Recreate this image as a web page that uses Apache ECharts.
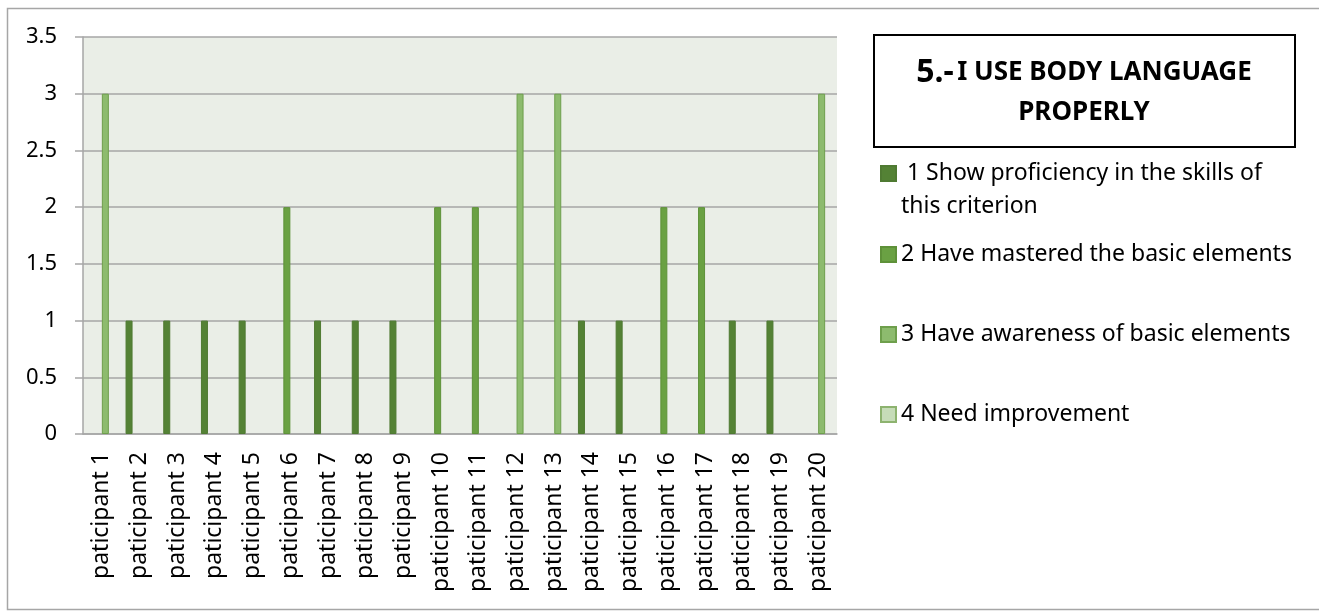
<!DOCTYPE html>
<html>
<head>
<meta charset="utf-8">
<script src="https://cdn.jsdelivr.net/npm/echarts@6/dist/echarts.min.js"></script>
<style>
  html, body { margin: 0; padding: 0; background: #fff; }
  #chart { width: 1319px; height: 611px; }
</style>
</head>
<body>
<div id="chart"></div>
<script>
// categories (spelling kept as in the original)
var participants = ['paticipant 1', 'paticipant 2', 'paticipant 3', 'paticipant 4', 'paticipant 5',
  'paticipant 6', 'paticipant 7', 'paticipant 8', 'paticipant 9', 'paticipant 10',
  'paticipant 11', 'paticipant 12', 'paticipant 13', 'paticipant 14', 'paticipant 15',
  'paticipant 16', 'paticipant 17', 'paticipant 18', 'paticipant 19', 'paticipant 20'];

var seriesNames = [' 1 Show proficiency in the skills of', '2 Have mastered the basic elements',
  '3 Have awareness of basic elements', '4 Need improvement'];

// one value per participant, null where that level has no bar
var proficiency = [null, 1, 1, 1, 1, null, 1, 1, 1, null, null, null, null, 1, 1, null, null, 1, 1, null];
var mastered    = [null, null, null, null, null, 2, null, null, null, 2, 2, null, null, null, null, 2, 2, null, null, null];
var awareness   = [3, null, null, null, null, null, null, null, null, null, null, 3, 3, null, null, null, null, null, null, 3];
var improvement = [null, null, null, null, null, null, null, null, null, null, null, null, null, null, null, null, null, null, null, null];

var yTicks = { min: 0, max: 3.5, interval: 0.5 };

var fills = ['#548235', '#6aa143', '#8dbb6e', '#c6dcb8'];
var borders = ['#4f7a32', '#5e9139', '#6e9f4c', '#8db36f'];
var font = 'Noto Sans';

var myChart = echarts.init(document.getElementById('chart'));

function bar(i, data) {
  return {
    name: seriesNames[i],
    type: 'bar',
    data: data,
    barWidth: 7,
    barGap: '0%',
    itemStyle: { color: fills[i], borderColor: borders[i], borderWidth: 1 }
  };
}

function legendAt(i, top) {
  return {
    data: [seriesNames[i]],
    icon: 'rect',
    left: 880,
    top: top,
    padding: 0,
    itemWidth: 15,
    itemHeight: 15,
    itemGap: 0,
    selectedMode: false,
    textStyle: { color: '#000', fontSize: 23, fontFamily: font }
  };
}

myChart.setOption({
  animation: false,
  backgroundColor: '#fff',
  grid: {
    left: 83, top: 37, right: 482, bottom: 177,
    show: true, backgroundColor: '#eaeee7', borderWidth: 0
  },
  legend: [legendAt(0, 162), legendAt(1, 243), legendAt(2, 323), legendAt(3, 403)],
  graphic: [
    {
      type: 'rect', silent: true,
      shape: { x: 7.5, y: 8.5, width: 1340, height: 601 },
      style: { fill: null, stroke: '#a6a6a6', lineWidth: 1.5 }
    },
    {
      type: 'rect', silent: true,
      shape: { x: 874, y: 35, width: 421, height: 112 },
      style: { fill: '#fff', stroke: '#000', lineWidth: 2 }
    },
    {
      type: 'text', silent: true, x: 1084, y: 93,
      style: {
        text: '{big|5.-} {b|I USE BODY LANGUAGE}\n{b|PROPERLY}',
        align: 'center', verticalAlign: 'middle',
        rich: {
          big: { fontSize: 32, fontWeight: 'bold', fontFamily: font, fill: '#000', lineHeight: 40 },
          b: { fontSize: 26, fontWeight: 'bold', fontFamily: font, fill: '#000', lineHeight: 40 }
        }
      }
    },
    {
      type: 'text', silent: true, x: 901, y: 206,
      style: { text: 'this criterion', fontSize: 23, fontFamily: font, fill: '#000', verticalAlign: 'middle' }
    }
  ],
  xAxis: {
    type: 'category',
    data: participants,
    axisLine: { lineStyle: { color: '#a6a6a6', width: 1.5 } },
    axisTick: { length: 8, lineStyle: { color: '#a6a6a6', width: 1.5 } },
    axisLabel: {
      rotate: 90, interval: 0, margin: 18,
      color: '#000', fontSize: 23, fontFamily: font
    }
  },
  yAxis: {
    type: 'value',
    min: yTicks.min, max: yTicks.max, interval: yTicks.interval,
    axisLine: { show: true, lineStyle: { color: '#a6a6a6', width: 1.5 } },
    axisTick: { show: true, length: 8, lineStyle: { color: '#a6a6a6', width: 1.5 } },
    axisLabel: { margin: 26, color: '#000', fontSize: 22, fontFamily: font },
    splitLine: { lineStyle: { color: '#a6a6a6', width: 1.5 } }
  },
  series: [bar(0, proficiency), bar(1, mastered), bar(2, awareness), bar(3, improvement)]
});
</script>
</body>
</html>
